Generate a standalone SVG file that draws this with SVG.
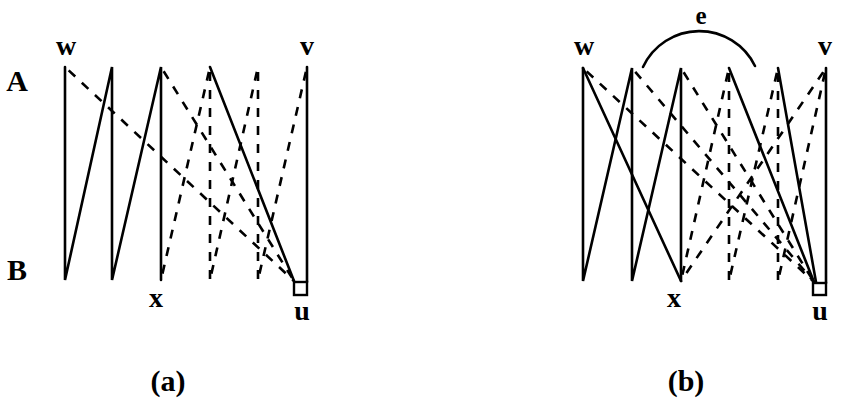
<svg xmlns="http://www.w3.org/2000/svg" width="844" height="405" viewBox="0 0 844 405">
<style>
  .s { stroke: #000; stroke-width: 2.6; fill: none; stroke-linecap: round; stroke-linejoin: miter; }
  .d { stroke: #000; stroke-width: 2.6; fill: none; stroke-dasharray: 9 9; stroke-dashoffset: -5; }
  .lbl { font-family: "Liberation Serif", "DejaVu Serif", serif; font-weight: bold; font-size: 28px; text-anchor: middle; fill: #000; }
  .cap { font-size: 30px; }
  .box { stroke: #000; stroke-width: 2.4; fill: #fff; }
</style>
<rect width="844" height="405" fill="#fff"/>

<!-- Diagram (a) -->
<g id="connectors-a">
  <polyline class="s" points="65,67 65,280 112,67 112,280 161,67 161,280"/>
  <line class="s" x1="210" y1="67" x2="294" y2="281"/>
  <line class="s" x1="307" y1="67" x2="307" y2="282"/>
  <line class="d" x1="65" y1="67" x2="294" y2="281"/>
  <line class="d" x1="161" y1="67" x2="294" y2="281"/>
  <line class="d" x1="210" y1="67" x2="161" y2="280"/>
  <line class="d" x1="210" y1="67" x2="210" y2="280"/>
  <line class="d" x1="258" y1="67" x2="210" y2="280"/>
  <line class="d" x1="258" y1="67" x2="258" y2="280"/>
  <line class="d" x1="307" y1="67" x2="258" y2="280"/>
</g>
<g id="a-u"><rect class="box" x="294" y="282" width="13" height="13"/><text class="lbl" x="302" y="320">u</text></g>
<g id="a-w"><text class="lbl" x="66" y="55">w</text></g>
<g id="a-v"><text class="lbl" x="307" y="55">v</text></g>
<g id="a-x"><text class="lbl" x="156" y="307">x</text></g>
<g id="a-A"><text class="lbl cap" x="17" y="91">A</text></g>
<g id="a-B"><text class="lbl cap" x="17" y="280">B</text></g>
<g id="caption-a"><text class="lbl cap" x="168" y="391">(a)</text></g>

<!-- Diagram (b) -->
<g id="connectors-b">
  <polyline class="s" points="583,68 583,281 632,68 632,281 681,68 681,281"/>
  <line class="s" x1="583" y1="68" x2="681" y2="281"/>
  <line class="s" x1="729" y1="68" x2="814" y2="282"/>
  <line class="s" x1="778" y1="68" x2="816" y2="282"/>
  <line class="s" x1="826" y1="68" x2="826" y2="283"/>
  <line class="d" x1="583" y1="68" x2="814" y2="282"/>
  <line class="d" x1="632" y1="68" x2="814" y2="282"/>
  <line class="d" x1="681" y1="68" x2="814" y2="282"/>
  <line class="d" x1="729" y1="68" x2="681" y2="281"/>
  <line class="d" x1="729" y1="68" x2="729" y2="281"/>
  <line class="d" x1="778" y1="68" x2="729" y2="281"/>
  <line class="d" x1="778" y1="68" x2="778" y2="281"/>
  <line class="d" x1="826" y1="68" x2="778" y2="281"/>
  <line class="d" x1="826" y1="68" x2="681" y2="281"/>
  <path class="s" d="M 643 67 A 62 62 0 0 1 755 66"/>
</g>
<g id="b-u"><rect class="box" x="813" y="283" width="13" height="12"/><text class="lbl" x="820" y="320">u</text></g>
<g id="b-w"><text class="lbl" x="584" y="55">w</text></g>
<g id="b-v"><text class="lbl" x="825" y="55">v</text></g>
<g id="b-x"><text class="lbl" x="674" y="307">x</text></g>
<g id="b-e"><text class="lbl" x="701" y="24" style="font-size:25px">e</text></g>
<g id="caption-b"><text class="lbl cap" x="686" y="391">(b)</text></g>
</svg>
